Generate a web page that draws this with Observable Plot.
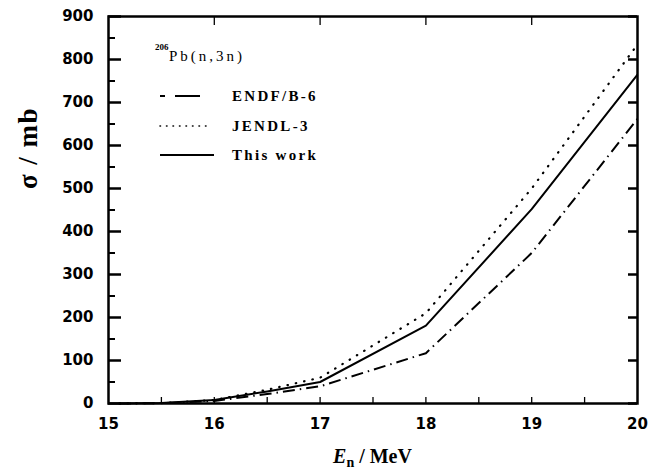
<!DOCTYPE html>
<html><head><meta charset="utf-8">
<script src="https://cdn.jsdelivr.net/npm/d3@7"></script>
<script src="https://cdn.jsdelivr.net/npm/@observablehq/plot@0.6"></script>
<style>
body{margin:0;background:#fff}
#chart{position:relative;width:649px;height:476px}
</style>
</head><body><div id="chart"></div>
<script>
// ---- data ----
const energy   = [15.1, 15.5, 16.0, 16.5, 17.0, 18.0, 19.0, 20.0];
const endfB6   = [0,    1,    6,    22,   40,   117,  350,  662];
const jendl3   = [0,    1,    8,    32,   60,   210,  500,  835];
const thisWork = [0,    1,    8,    28,   50,   181,  452,  765];
const seriesNames = ["ENDF/B-6", "JENDL-3", "This work"];
const reactionPrefix = "206";
const reactionName = "Pb(n,3n)";
const xTickLabels = [15, 16, 17, 18, 19, 20];
const yTickLabels = [0, 100, 200, 300, 400, 500, 600, 700, 800, 900];
const yMinorTicks = [50, 150, 250, 350, 450, 550, 650, 750, 850];
const xMinorTicks = [15.5, 16, 16.5, 17, 17.5, 18, 18.5, 19, 19.5];
const xTopTicks = [16, 17, 18, 19];

const seriesValues = [endfB6, jendl3, thisWork];
const dashes = ["12,5,1.5,5", "0.5,8", null];
const rows = seriesNames.map((name, k) => energy.map((e, i) => ({series: name, e, v: seriesValues[k][i]})));

const W = 649, H = 476, mL = 108, mR = 12, mT = 16, mB = 73;
const pw = W - mL - mR, ph = H - mT - mB;
const tickFont = {fontSize: 15, fontWeight: "bold", fontFamily: "DejaVu Sans"};

const plot = Plot.plot({
  width: W, height: H,
  marginLeft: mL, marginRight: mR, marginTop: mT, marginBottom: mB,
  x: {domain: [15, 20]},
  y: {domain: [0, 900]},
  marks: [
    Plot.axisX({ticks: xTickLabels, tickSize: 0, tickPadding: 15, label: null, tickFormat: d => d, ...tickFont}),
    Plot.axisY({ticks: yTickLabels, tickSize: 0, tickPadding: 15, label: null, tickFormat: d => d, ...tickFont}),
    ...rows.map((r, k) => Plot.line(r, {
      x: "e", y: "v", stroke: "black",
      strokeWidth: k === 1 ? 2.2 : 2,
      strokeDasharray: dashes[k],
      strokeLinecap: k === 1 ? "round" : "butt"
    })),
    Plot.frame({stroke: "black", strokeWidth: 2.5}),
    Plot.ruleY(yTickLabels, {insetRight: pw - 13, stroke: "black", strokeWidth: 2.5}),
    Plot.ruleY(yMinorTicks, {insetRight: pw - 7, stroke: "black", strokeWidth: 2}),
    Plot.ruleY(yTickLabels, {insetLeft: pw - 9, stroke: "black", strokeWidth: 2.5}),
    Plot.ruleX(xMinorTicks, {insetTop: ph - 6, stroke: "black", strokeWidth: 1.3}),
    Plot.ruleX(xTopTicks, {insetBottom: ph - 9, stroke: "black", strokeWidth: 1.3})
  ]
});

document.getElementById("chart").appendChild(plot);

const svg = d3.select(plot);
const sx = plot.scale("x");
const x0 = sx.apply(15), x1 = sx.apply(20);

// ---- axis labels ----
const serif = "Liberation Serif";
const yl = svg.append("text")
  .attr("transform", "translate(37,148) rotate(-90)")
  .attr("text-anchor", "middle")
  .attr("font-family", serif).attr("font-weight", "bold").attr("font-size", 27)
  .attr("letter-spacing", 1.5)
  .attr("fill", "black");
yl.append("tspan").text("σ / mb");

const xl = svg.append("text")
  .attr("x", (x0 + x1) / 2).attr("y", 463)
  .attr("text-anchor", "middle")
  .attr("font-family", serif).attr("font-weight", "bold").attr("font-size", 20)
  .attr("fill", "black");
xl.append("tspan").attr("font-style", "italic").text("E");
xl.append("tspan").attr("font-size", 14).attr("dy", 4).text("n");
xl.append("tspan").attr("dy", -4).text(" / MeV");

// ---- legend ----
const lg = svg.append("g").attr("font-family", serif).attr("fill", "black").attr("text-anchor", "start");
lg.append("text").attr("x", 155).attr("y", 50).attr("font-size", 9).attr("font-weight", "bold").text(reactionPrefix);
lg.append("text").attr("x", 169).attr("y", 61).attr("font-size", 15).attr("letter-spacing", 3).text(reactionName);

const legY = [96, 126, 155];
const legDash = ["5,10,25,100", "0.5,6", null];
seriesNames.forEach((name, k) => {
  lg.append("line").attr("x1", 160).attr("x2", k === 0 ? 200 : k === 1 ? 210 : 214)
    .attr("y1", legY[k]).attr("y2", legY[k])
    .attr("stroke", "black").attr("stroke-width", k === 1 ? 1.6 : 2)
    .attr("stroke-linecap", k === 1 ? "round" : "butt")
    .attr("stroke-dasharray", legDash[k]);
  lg.append("text").attr("x", 232).attr("y", legY[k] + 5)
    .attr("font-size", 15).attr("font-weight", "bold").attr("letter-spacing", 2.3)
    .text(name);
});
</script>
</body></html>
